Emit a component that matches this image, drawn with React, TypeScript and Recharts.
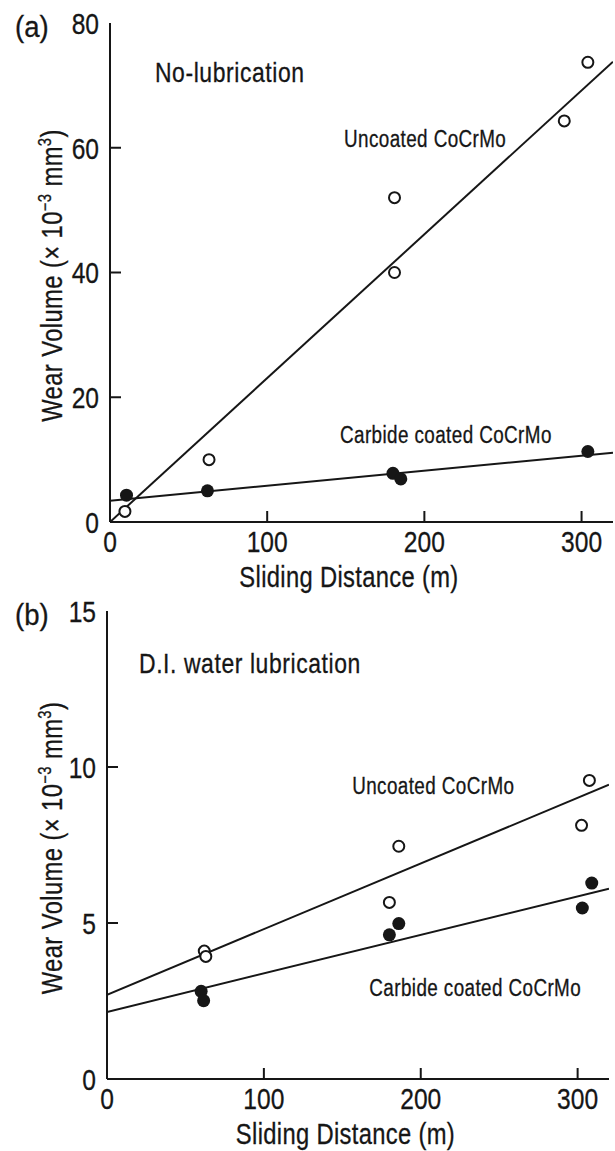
import { ComposedChart, Scatter, Line, XAxis, YAxis, ReferenceDot } from "recharts";

const FONT = "'Liberation Sans', Arial, sans-serif";
const INK = "#161616";
const TICK_LEN = 11;
const SQUEEZE = 0.82; // condensed look of the original lettering

// shared x axis
const xTicks = [0, 100, 200, 300];
const xDomain = [0, 320];
const fitEnds = [0, 320];

// (a) no lubrication
const distUncoatedA = [9.5, 63, 181, 181, 289, 304];
const wearUncoatedA = [1.7, 10, 52, 40, 64.3, 73.7];
const distCarbideA = [10.5, 62, 180, 185, 304];
const wearCarbideA = [4.3, 5.0, 7.8, 6.9, 11.3];
const fitUncoatedA = [0, 73.8];
const fitCarbideA = [3.4, 11.1];
const yTicksA = [0, 20, 40, 60, 80];

// (b) D.I. water lubrication
const distUncoatedB = [62, 63, 180, 186, 302.5, 307.5];
const wearUncoatedB = [4.1, 3.93, 5.66, 7.46, 8.13, 9.57];
const distCarbideB = [60, 61.6, 180, 186, 303, 309];
const wearCarbideB = [2.81, 2.51, 4.62, 4.98, 5.48, 6.28];
const fitUncoatedB = [2.7, 9.43];
const fitCarbideB = [2.15, 6.1];
const yTicksB = [0, 5, 10, 15];

// annotation anchors, in data units (text start, baseline)
const notesA = [
  { x: 28.6, y: 70.5, text: "No-lubrication", big: true },
  { x: 148.9, y: 60.2, text: "Uncoated CoCrMo", big: false },
  { x: 146.3, y: 12.7, text: "Carbide coated CoCrMo", big: false },
];
const notesB = [
  { x: 20.4, y: 13.0, text: "D.I. water lubrication", big: true },
  { x: 156.3, y: 9.13, text: "Uncoated CoCrMo", big: false },
  { x: 167.2, y: 2.66, text: "Carbide coated CoCrMo", big: false },
];

const pairs = (xs: number[], ys: number[]) => xs.map((x, i) => ({ x, y: ys[i] }));

function NText({ x, y, size, anchor = "start", rotate = 0, spacing = 0, squeeze = SQUEEZE, dy, children }: any) {
  return (
    <text
      transform={`translate(${x},${y}) rotate(${rotate}) scale(${squeeze},1)`}
      x={0}
      y={0}
      dy={dy}
      fontSize={size}
      textAnchor={anchor}
      letterSpacing={spacing}
      fontFamily={FONT}
      fill={INK}
      stroke={INK}
      strokeWidth={0.3}
    >
      {children}
    </text>
  );
}

const openDot = (p: any) => (
  <circle cx={p.cx} cy={p.cy} r={5.5} fill="#fff" stroke={INK} strokeWidth={2} />
);
const fullDot = (p: any) => <circle cx={p.cx} cy={p.cy} r={6.5} fill={INK} />;

function Panel(props: any) {
  const { tag, top, w, h, margin, yAxisW, xAxisH, yDomain, yTicks, unc, car, fitU, fitC, notes } = props;
  const yMax = yDomain[1];

  const bottomTick = ({ x, y, payload }: any) => (
    <g>
      {payload.value > 0 && <line x1={x} y1={y} x2={x} y2={y - TICK_LEN} stroke={INK} strokeWidth={2} />}
      <NText x={x} y={y + 30} size={30} anchor="middle">
        {payload.value}
      </NText>
    </g>
  );
  const topTick = ({ x, y, payload }: any) =>
    payload.value > 0 ? <line x1={x} y1={y} x2={x} y2={y + TICK_LEN} stroke={INK} strokeWidth={2} /> : <g />;
  const leftTick = ({ x, y, payload }: any) => (
    <g>
      {payload.value > 0 && payload.value < yMax && (
        <line x1={x} y1={y} x2={x + TICK_LEN} y2={y} stroke={INK} strokeWidth={2} />
      )}
      <NText x={x - 11} y={y} dy="0.36em" size={30} anchor="end">
        {payload.value}
      </NText>
    </g>
  );
  const rightTick = ({ x, y, payload }: any) =>
    payload.value > 0 && payload.value < yMax ? (
      <line x1={x} y1={y} x2={x - TICK_LEN} y2={y} stroke={INK} strokeWidth={2} />
    ) : (
      <g />
    );

  const yTitle = ({ viewBox }: any) => {
    const cx = 62;
    const cy = viewBox.y + viewBox.height / 2 + 3;
    return (
      <g>
        <NText x={15} y={viewBox.y + 14} size={29} squeeze={0.95}>
          ({tag})
        </NText>
        <NText x={cx} y={cy} size={29} anchor="middle" rotate={-90} spacing={0.5}>
          Wear Volume (× 10
          <tspan dy={-11} fontSize={18}>
            −3
          </tspan>
          <tspan dy={11}> mm</tspan>
          <tspan dy={-11} fontSize={18}>
            3
          </tspan>
          <tspan dy={11}>)</tspan>
        </NText>
      </g>
    );
  };
  const xTitle = ({ viewBox }: any) => (
    <NText x={viewBox.x + viewBox.width * 0.475} y={viewBox.y + 65} size={29} anchor="middle" spacing={0.4}>
      Sliding Distance (m)
    </NText>
  );

  return (
    <div style={{ position: "absolute", left: 0, top }}>
      <ComposedChart width={w} height={h} margin={margin}>
        <XAxis
          xAxisId={0}
          type="number"
          dataKey="x"
          domain={xDomain}
          ticks={xTicks}
          interval={0}
          allowDataOverflow
          height={xAxisH}
          tickSize={0}
          tickMargin={0}
          tickLine={false}
          tick={bottomTick}
          axisLine={{ stroke: INK, strokeWidth: 2 }}
          label={xTitle}
        />
        <XAxis
          xAxisId="top"
          orientation="top"
          type="number"
          domain={xDomain}
          ticks={xTicks}
          interval={0}
          allowDataOverflow
          height={0}
          tickSize={0}
          tickMargin={0}
          tickLine={false}
          tick={topTick}
          axisLine={{ stroke: INK, strokeWidth: 2 }}
        />
        <YAxis
          yAxisId={0}
          type="number"
          domain={yDomain}
          ticks={yTicks}
          interval={0}
          allowDataOverflow
          width={yAxisW}
          tickSize={0}
          tickMargin={0}
          tickLine={false}
          tick={leftTick}
          axisLine={{ stroke: INK, strokeWidth: 2 }}
          label={yTitle}
        />
        <YAxis
          yAxisId="right"
          orientation="right"
          type="number"
          domain={yDomain}
          ticks={yTicks}
          interval={0}
          allowDataOverflow
          width={0}
          tickSize={0}
          tickMargin={0}
          tickLine={false}
          tick={rightTick}
          axisLine={{ stroke: INK, strokeWidth: 2 }}
        />
        <Line
          data={pairs(fitEnds, fitU)}
          dataKey="y"
          stroke={INK}
          strokeWidth={2}
          dot={false}
          activeDot={false}
          isAnimationActive={false}
        />
        <Line
          data={pairs(fitEnds, fitC)}
          dataKey="y"
          stroke={INK}
          strokeWidth={2}
          dot={false}
          activeDot={false}
          isAnimationActive={false}
        />
        <Scatter data={unc} dataKey="y" shape={openDot} isAnimationActive={false} />
        <Scatter data={car} dataKey="y" shape={fullDot} isAnimationActive={false} />
        {notes.map((n: any) => (
          <ReferenceDot
            key={n.text}
            x={n.x}
            y={n.y}
            r={0}
            shape={(p: any) => (
              <NText x={p.cx} y={p.cy} size={n.big ? 28 : 23} spacing={n.big ? 0.7 : 0.5}>
                {n.text}
              </NText>
            )}
          />
        ))}
      </ComposedChart>
    </div>
  );
}

export default function App() {
  return (
    <div style={{ position: "absolute", left: 0, top: 0, width: 615, height: 1151, background: "#fff" }}>
      <Panel
        tag="a"
        top={0}
        w={615}
        h={600}
        margin={{ top: 23, right: 2, bottom: 0, left: 0 }}
        yAxisW={110}
        xAxisH={78}
        yDomain={[0, 80]}
        yTicks={yTicksA}
        unc={pairs(distUncoatedA, wearUncoatedA)}
        car={pairs(distCarbideA, wearCarbideA)}
        fitU={fitUncoatedA}
        fitC={fitCarbideA}
        notes={notesA}
      />
      <Panel
        tag="b"
        top={580}
        w={615}
        h={571}
        margin={{ top: 31, right: 6, bottom: 0, left: 0 }}
        yAxisW={107}
        xAxisH={72}
        yDomain={[0, 15]}
        yTicks={yTicksB}
        unc={pairs(distUncoatedB, wearUncoatedB)}
        car={pairs(distCarbideB, wearCarbideB)}
        fitU={fitUncoatedB}
        fitC={fitCarbideB}
        notes={notesB}
      />
    </div>
  );
}
